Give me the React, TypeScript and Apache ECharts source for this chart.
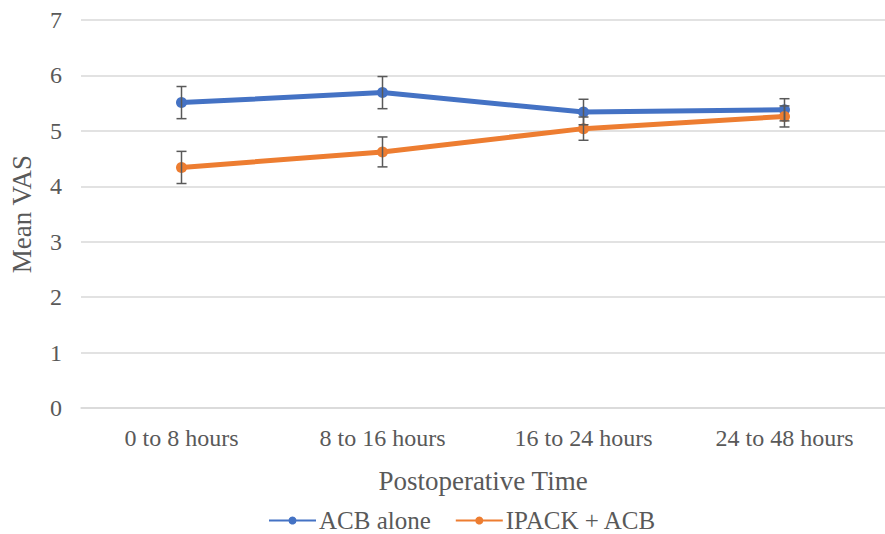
import React, { useEffect, useRef } from "react";
import * as echarts from "echarts";

const categories = ["0 to 8 hours", "8 to 16 hours", "16 to 24 hours", "24 to 48 hours"];
const acbAlone = [5.51, 5.69, 5.34, 5.38];
const acbAloneErr = [0.29, 0.29, 0.23, 0.2];
const ipackAcb = [4.34, 4.62, 5.04, 5.26];
const ipackAcbErr = [0.29, 0.27, 0.21, 0.19];
const yTicks = [0, 1, 2, 3, 4, 5, 6, 7];

const FONT = "Liberation Serif";
const BLUE = "#4472C4";
const ORANGE = "#ED7D31";
const GREY = "#595959";

function errData(vals: number[], errs: number[]) {
  return vals.map((v, i) => [i, v - errs[i], v + errs[i]]);
}

function errSeries(name: string, vals: number[], errs: number[]) {
  return {
    type: "custom",
    name: name + " err",
    z: 5,
    silent: true,
    data: errData(vals, errs),
    renderItem: (params: any, api: any) => {
      const x = api.value(0);
      const lo = api.coord([x, api.value(1)]);
      const hi = api.coord([x, api.value(2)]);
      const w = 5;
      const style = { stroke: GREY, lineWidth: 1.5 };
      return {
        type: "group",
        children: [
          { type: "line", shape: { x1: hi[0], y1: hi[1], x2: lo[0], y2: lo[1] }, style },
          { type: "line", shape: { x1: hi[0] - w, y1: hi[1], x2: hi[0] + w, y2: hi[1] }, style },
          { type: "line", shape: { x1: lo[0] - w, y1: lo[1], x2: lo[0] + w, y2: lo[1] }, style },
        ],
      };
    },
  };
}

export default function App() {
  const ref = useRef<HTMLDivElement>(null);
  useEffect(() => {
    if (!ref.current) return;
    const chart = echarts.init(ref.current, undefined, { renderer: "svg" });
    chart.setOption({
      animation: false,
      backgroundColor: "#ffffff",
      textStyle: { fontFamily: FONT },
      grid: { left: 81, top: 20, width: 822, height: 388, containLabel: false },
      legend: {
        data: ["ACB alone", "IPACK + ACB"],
        left: 268,
        top: 508,
        padding: 0,
        itemWidth: 47,
        itemHeight: 10,
        itemGap: 24,
        textStyle: { fontFamily: FONT, fontSize: 25, lineHeight: 24, color: GREY, padding: [0, 0, 0, -2] },
      },
      xAxis: {
        type: "category",
        data: categories,
        boundaryGap: true,
        axisLine: { show: true, lineStyle: { color: "#d9d9d9", width: 1.5 } },
        axisTick: { show: false },
        axisLabel: { fontFamily: FONT, fontSize: 24, color: GREY, margin: 18 },
        name: "Postoperative Time",
        nameLocation: "middle",
        nameGap: 73,
        nameTextStyle: { fontFamily: FONT, fontSize: 27, color: GREY, verticalAlign: "middle" },
      },
      yAxis: {
        type: "value",
        min: yTicks[0],
        max: yTicks[yTicks.length - 1],
        interval: 1,
        axisLine: { show: false },
        axisTick: { show: false },
        splitLine: { lineStyle: { color: "#d9d9d9", width: 1.5 } },
        axisLabel: { fontFamily: FONT, fontSize: 24, color: GREY, margin: 19 },
        name: "Mean VAS",
        nameLocation: "middle",
        nameRotate: 90,
        nameGap: 59,
        nameTextStyle: { fontFamily: FONT, fontSize: 27, color: GREY, verticalAlign: "middle" },
      },
      series: [
        {
          type: "line",
          name: "ACB alone",
          data: acbAlone,
          color: BLUE,
          lineStyle: { width: 5, color: BLUE },
          symbol: "circle",
          symbolSize: 11,
          itemStyle: { color: BLUE },
          z: 3,
        },
        {
          type: "line",
          name: "IPACK + ACB",
          data: ipackAcb,
          color: ORANGE,
          lineStyle: { width: 5, color: ORANGE },
          symbol: "circle",
          symbolSize: 11,
          itemStyle: { color: ORANGE },
          z: 4,
        },
        errSeries("ACB alone", acbAlone, acbAloneErr),
        errSeries("IPACK + ACB", ipackAcb, ipackAcbErr),
      ],
    });
    return () => chart.dispose();
  }, []);
  return (
    <div
      ref={ref}
      style={{ position: "absolute", left: 0, top: 0, width: 885, height: 534, overflow: "hidden" }}
    />
  );
}
